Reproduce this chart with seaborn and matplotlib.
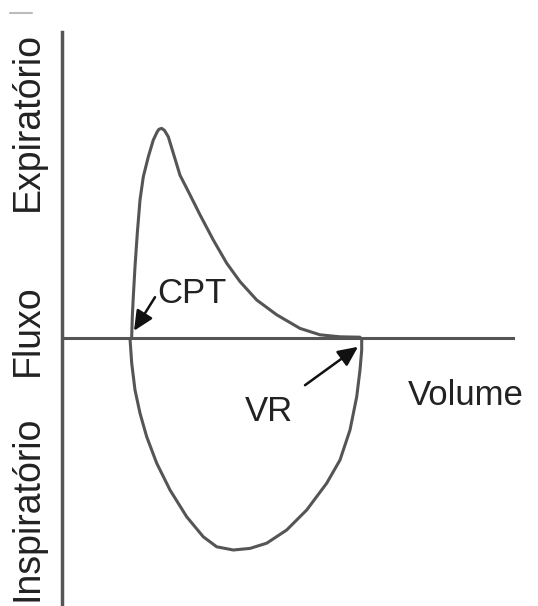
import numpy as np
import pandas as pd
import matplotlib
matplotlib.use("Agg")
import matplotlib.pyplot as plt
import seaborn as sns

# Flow-volume loop (arbitrary units)
exp_volume = [0.697, 0.703, 0.713, 0.73, 0.753, 0.78, 0.813, 0.863, 0.913, 0.953, 0.97,
              0.997, 1.025, 1.063, 1.113, 1.18, 1.28, 1.38, 1.513, 1.647, 1.78, 1.947,
              2.147, 2.38, 2.58, 2.78, 2.98]
exp_flow = [0.03, 0.53, 1.03, 1.78, 2.62, 3.45, 4.03, 4.53, 4.95, 5.16, 5.22,
            5.24, 5.19, 5.03, 4.62, 4.07, 3.58, 3.08, 2.45, 1.87, 1.41, 0.95,
            0.58, 0.24, 0.08, 0.03, 0.02]
insp_volume = [0.68, 0.697, 0.73, 0.78, 0.847, 0.947, 1.08, 1.247, 1.413, 1.547, 1.713,
               1.88, 2.047, 2.247, 2.447, 2.647, 2.78, 2.88, 2.947, 2.98, 2.997, 2.997]
insp_flow = [-0.01, -0.63, -1.3, -1.88, -2.47, -3.13, -3.8, -4.47, -4.97, -5.22, -5.3,
             -5.26, -5.13, -4.8, -4.3, -3.63, -3.05, -2.3, -1.47, -0.8, -0.3, -0.01]

y_labels = ["Expiratório", "Fluxo", "Inspiratório"]
x_label = "Volume"
point_labels = ["CPT", "VR"]

sns.set_theme(style="white")
plt.rcParams['font.family'] = ['Liberation Sans', 'DejaVu Sans']

line_col = "#555555"
text_col = "#222222"

fig = plt.figure(figsize=(5.38, 6.06), dpi=100)
ax = fig.add_axes([62 / 538, 0.0, (515 - 62) / 538, (606 - 32) / 606])

exp_df = pd.DataFrame({"volume": exp_volume, "flow": exp_flow})
insp_df = pd.DataFrame({"volume": insp_volume, "flow": insp_flow})
sns.lineplot(data=exp_df, x="volume", y="flow", sort=False, estimator=None,
             color=line_col, lw=2.2, ax=ax)
sns.lineplot(data=insp_df, x="volume", y="flow", sort=False, estimator=None,
             color=line_col, lw=2.2, ax=ax)

ax.axhline(0, color=line_col, lw=2.2)
ax.set_xlim(0, 4.53)
ax.set_ylim(-6.7, 7.65)
ax.set_xticks([])
ax.set_yticks([])
ax.set_xlabel("")
ax.set_ylabel("")
for s in ["top", "right", "bottom"]:
    ax.spines[s].set_visible(False)
ax.spines["left"].set_color(line_col)
ax.spines["left"].set_linewidth(2.5)

arrow = dict(arrowstyle="-|>,head_length=0.6,head_width=0.28", color="#111111",
             lw=1.8, shrinkA=0, shrinkB=0, mutation_scale=20)
ax.annotate("", xy=(0.72, 0.18), xytext=(0.93, 1.02), arrowprops=arrow)
ax.annotate("", xy=(2.96, -0.22), xytext=(2.43, -1.18), arrowprops=arrow)
ax.text(0.95, 0.88, point_labels[0], fontsize=25, color=text_col,
        ha="left", va="baseline")
ax.text(1.83, -2.08, point_labels[1], fontsize=25, color=text_col,
        ha="left", va="baseline")
ax.text(3.46, -1.68, x_label, fontsize=25, color=text_col,
        ha="left", va="baseline")

# vertical axis words
for lab, yc in zip(y_labels, [121.5, 330, 508]):
    fig.text(28 / 538, 1 - yc / 606, lab, rotation=90, fontsize=27,
             color=text_col, ha="center", va="center")

fig.lines.append(plt.Line2D([10 / 538, 32 / 538], [1 - 13 / 606, 1 - 13 / 606],
                            transform=fig.transFigure, color="#bbbbbb", lw=1.5))

fig.savefig("out.png", dpi=100)
